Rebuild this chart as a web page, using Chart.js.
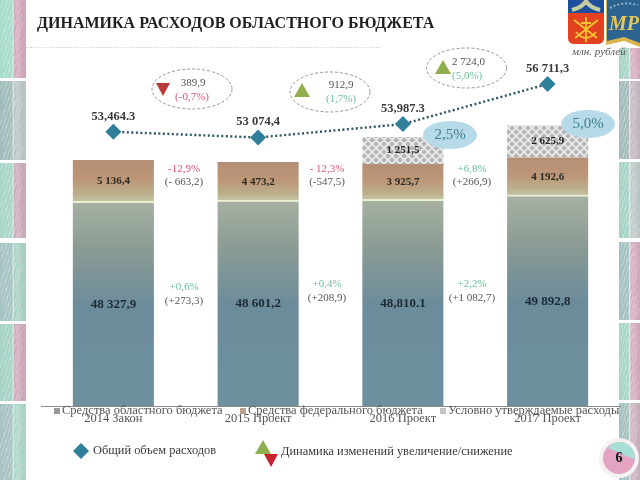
<!DOCTYPE html>
<html>
<head>
<meta charset="utf-8">
<title>Динамика расходов областного бюджета</title>
<script src="https://cdn.jsdelivr.net/npm/chart.js@4/dist/chart.umd.min.js"></script>
<style>
    html, body { margin: 0; padding: 0; background: #fff; }
    canvas { display: block; filter: blur(0.5px); }
</style>
</head>
<body>
<canvas id="budget-chart" width="640" height="480"></canvas>
<script>
const categories = ['2014 Закон', '2015 Проект', '2016 Проект', '2017 Проект'];
const seriesNames = ['Средства областного бюджета', 'Средства федерального бюджета', 'Условно утверждаемые расходы'];

// regional segments are in scale, the picture draws the two upper segments
// taller than their printed value, so their heights are read off the bars
const regionalValues = [48327.9, 48601.2, 48810.1, 49892.8];
const federalHeights = [10240, 9520, 8810, 9290];
const reservedHeights = [0, 0, 6430, 7620];
const totalValues = [53464.3, 53074.4, 53987.3, 56711.3];

const regionalLabels = ['48 327,9', '48 601,2', '48,810.1', '49 892,8'];
const federalLabels = ['5 136,4', '4 473,2', '3 925,7', '4 192,6'];
const reservedLabels = ['', '', '1 251,5', '2 625,9'];
const totalLabels = ['53,464.3', '53 074,4', '53,987.3', '56 711,3'];

const upperChangePercent = ['-12,9%', '- 12,3%', '+6,8%'];
const upperChangeAmount = ['(- 663,2)', '(-547,5)', '(+266,9)'];
const lowerChangePercent = ['+0,6%', '+0,4%', '+2,2%'];
const lowerChangeAmount = ['(+273,3)', '(+208,9)', '(+1 082,7)'];

const totalChangeAmount = ['389,9', '912,9', '2 724,0'];
const totalChangePercent = ['(-0,7%)', '(1,7%)', '(5,0%)'];

const RED = '#e0566f';
const GREEN = '#6fbf9a';
const GRAY_TEXT = '#555555';
const SERIF = '"Liberation Serif", serif';

function segmentGradient(context, fromValue, toValue, stops) {
    const chart = context.chart;
    if (!chart.chartArea) {
        return stops[0][1];
    }
    const yScale = chart.scales.y;
    const gradient = chart.ctx.createLinearGradient(
        0, yScale.getPixelForValue(toValue), 0, yScale.getPixelForValue(fromValue));
    stops.forEach(([offset, color]) => gradient.addColorStop(offset, color));
    return gradient;
}

function regionalFill(context) {
    const value = regionalValues[context.dataIndex];
    return segmentGradient(context, 0, value, [
        [0, '#a6b0a2'],
        [0.22, '#8b9c94'],
        [0.5, '#6d8c9b'],
        [1, '#6d909f'],
    ]);
}

function federalFill(context) {
    const base = regionalValues[context.dataIndex];
    return segmentGradient(context, base, base + federalHeights[context.dataIndex], [
        [0, '#b58f76'],
        [0.45, '#bd9677'],
        [0.8, '#bcaf8c'],
        [0.95, '#c3c3a4'],
        [0.96, '#eef0d2'],
        [1, '#eef0d2'],
    ]);
}

function hatchPattern() {
    const tile = document.createElement('canvas');
    tile.width = 8;
    tile.height = 8;
    const tileCtx = tile.getContext('2d');
    tileCtx.fillStyle = '#b4b4b4';
    tileCtx.fillRect(0, 0, 8, 8);
    tileCtx.strokeStyle = '#ededed';
    tileCtx.lineWidth = 1.6;
    tileCtx.beginPath();
    tileCtx.moveTo(-2, 6);
    tileCtx.lineTo(6, -2);
    tileCtx.moveTo(2, 10);
    tileCtx.lineTo(10, 2);
    tileCtx.moveTo(-2, 2);
    tileCtx.lineTo(6, 10);
    tileCtx.moveTo(2, -2);
    tileCtx.lineTo(10, 6);
    tileCtx.stroke();
    return tile;
}

const hatchTile = hatchPattern();

function drawText(ctx, text, x, y, font, color, align) {
    ctx.font = font;
    ctx.fillStyle = color;
    ctx.textAlign = align || 'center';
    ctx.textBaseline = 'middle';
    ctx.fillText(text, x, y);
}

function drawTriangle(ctx, x, y, up, color) {
    ctx.fillStyle = color;
    ctx.beginPath();
    if (up) {
        ctx.moveTo(x, y - 8);
        ctx.lineTo(x + 8, y + 6);
        ctx.lineTo(x - 8, y + 6);
    } else {
        ctx.moveTo(x - 7, y - 6);
        ctx.lineTo(x + 7, y - 6);
        ctx.lineTo(x, y + 7);
    }
    ctx.closePath();
    ctx.fill();
}

function drawDiamond(ctx, x, y, radius) {
    ctx.fillStyle = '#2f7f9b';
    ctx.beginPath();
    ctx.moveTo(x, y - radius);
    ctx.lineTo(x + radius, y);
    ctx.lineTo(x, y + radius);
    ctx.lineTo(x - radius, y);
    ctx.closePath();
    ctx.fill();
}

function drawStripTile(ctx, x, y, width, height, leftColor, rightColor) {
    const half = width / 2;
    ctx.save();
    ctx.beginPath();
    ctx.rect(x, y, width, height);
    ctx.clip();
    ctx.fillStyle = leftColor;
    ctx.fillRect(x, y, half, height);
    ctx.fillStyle = rightColor;
    ctx.fillRect(x + half, y, half, height);
    ctx.strokeStyle = 'rgba(255,255,255,0.28)';
    ctx.lineWidth = 1;
    for (let step = 0; step < height + 20; step += 4) {
        const shift = (step * 7) % 11;
        ctx.beginPath();
        ctx.moveTo(x + shift, y + step);
        ctx.lineTo(x + shift + 5, y + step - 16);
        ctx.moveTo(x + half + shift / 2, y + step + 2);
        ctx.lineTo(x + half + shift / 2 + 4, y + step - 14);
        ctx.stroke();
    }
    ctx.fillStyle = 'rgba(255,255,255,0.45)';
    ctx.fillRect(x + half - 0.5, y, 1.5, height);
    ctx.restore();
}

function drawSideStrips(ctx) {
    const leftTiles = [
        [0, 78, '#a8dccb', '#d2a6ba'],
        [81, 79, '#a3bdbd', '#b8c4c4'],
        [163, 75, '#a9d6c9', '#c9aab8'],
        [243, 78, '#a7c4c4', '#a9cfc4'],
        [324, 77, '#a6d3c6', '#cfa7ba'],
        [404, 76, '#a8c3c2', '#a9d4c6'],
    ];
    leftTiles.forEach(([y, h, left, right]) => drawStripTile(ctx, 0, y, 26, h, left, right));

    const rightTiles = [
        [48, 31, '#a9d6c8', '#d2a9bb'],
        [81, 78, '#a6bcbd', '#bfb3be'],
        [162, 76, '#a8d4c7', '#b9c4c4'],
        [242, 78, '#a4c3c3', '#cfa8ba'],
        [323, 77, '#a8d6c8', '#d0a7ba'],
        [403, 77, '#a6c3c2', '#c7adba'],
    ];
    rightTiles.forEach(([y, h, left, right]) => drawStripTile(ctx, 619, y, 21, h, left, right));
}

function drawCrest(ctx) {
    ctx.fillStyle = '#e2421f';
    ctx.beginPath();
    ctx.moveTo(568, 0);
    ctx.lineTo(604, 0);
    ctx.lineTo(604, 38);
    ctx.quadraticCurveTo(604, 44, 597, 44);
    ctx.lineTo(575, 44);
    ctx.quadraticCurveTo(568, 44, 568, 38);
    ctx.closePath();
    ctx.fill();
    ctx.fillStyle = '#1f4f9c';
    ctx.fillRect(568, 0, 36, 13);
    ctx.strokeStyle = '#c4cda0';
    ctx.lineWidth = 4;
    ctx.beginPath();
    ctx.moveTo(572, 10);
    ctx.quadraticCurveTo(583, 7, 586, 1);
    ctx.quadraticCurveTo(589, 7, 600, 10);
    ctx.stroke();

    ctx.strokeStyle = '#f3c634';
    ctx.lineWidth = 1.8;
    ctx.beginPath();
    ctx.moveTo(586, 17);
    ctx.lineTo(586, 42);
    ctx.moveTo(576, 32);
    ctx.quadraticCurveTo(586, 44, 596, 32);
    ctx.moveTo(574, 20);
    ctx.lineTo(597, 38);
    ctx.moveTo(598, 20);
    ctx.lineTo(575, 38);
    ctx.moveTo(581, 23);
    ctx.lineTo(591, 23);
    ctx.stroke();

    ctx.fillStyle = '#d9b54a';
    ctx.beginPath();
    ctx.moveTo(606, 0);
    ctx.lineTo(640, 0);
    ctx.lineTo(640, 47);
    ctx.lineTo(624, 41);
    ctx.lineTo(606, 45);
    ctx.closePath();
    ctx.fill();
    ctx.fillStyle = '#2d6390';
    ctx.beginPath();
    ctx.moveTo(607, 0);
    ctx.lineTo(640, 0);
    ctx.lineTo(640, 43);
    ctx.lineTo(624, 37);
    ctx.lineTo(607, 41);
    ctx.closePath();
    ctx.fill();
    ctx.strokeStyle = '#8fb0c8';
    ctx.lineWidth = 2;
    ctx.setLineDash([2, 2]);
    ctx.beginPath();
    ctx.moveTo(610, 8);
    ctx.quadraticCurveTo(622, 1, 638, 5);
    ctx.stroke();
    ctx.setLineDash([]);
    drawText(ctx, 'МР', 624, 25, 'italic bold 20px ' + SERIF, '#e6c75e');
}

function drawPageNumber(ctx) {
    ctx.fillStyle = '#f6f1f3';
    ctx.beginPath();
    ctx.arc(619, 458, 20, 0, Math.PI * 2);
    ctx.fill();
    ctx.fillStyle = '#e2a4c0';
    ctx.beginPath();
    ctx.arc(619, 458, 16, 0, Math.PI * 2);
    ctx.fill();
    ctx.fillStyle = '#a6e0d4';
    ctx.beginPath();
    ctx.moveTo(608, 448);
    ctx.arc(619, 458, 16, -2.0, 0.1);
    ctx.closePath();
    ctx.fill();
    drawText(ctx, '6', 619, 458, 'bold 14px ' + SERIF, '#111111');
}

function drawOval(ctx, x, y, rx, ry) {
    ctx.strokeStyle = '#8a8a80';
    ctx.lineWidth = 0.9;
    ctx.setLineDash([3, 2]);
    ctx.beginPath();
    ctx.ellipse(x, y, rx, ry, 0, 0, Math.PI * 2);
    ctx.stroke();
    ctx.setLineDash([]);
}

function drawBlueBadge(ctx, x, y, text) {
    ctx.fillStyle = '#b6dae7';
    ctx.beginPath();
    ctx.ellipse(x, y, 27, 14, 0, 0, Math.PI * 2);
    ctx.fill();
    drawText(ctx, text, x, y, '15px ' + SERIF, '#3f7f92');
}

const backgroundArt = {
    id: 'backgroundArt',
    beforeDraw(chart) {
        const ctx = chart.ctx;
        ctx.save();
        drawSideStrips(ctx);
        drawCrest(ctx);
        drawText(ctx, 'ДИНАМИКА РАСХОДОВ ОБЛАСТНОГО БЮДЖЕТА', 37, 24, 'bold 16px ' + SERIF, '#1f1f1f', 'left');
        drawText(ctx, 'млн. рублей', 572, 52, 'italic 11px ' + SERIF, '#555555', 'left');
        ctx.strokeStyle = '#c8c8c0';
        ctx.lineWidth = 1;
        ctx.setLineDash([1, 1.5]);
        ctx.beginPath();
        ctx.moveTo(26, 47.5);
        ctx.lineTo(380, 47.5);
        ctx.stroke();
        ctx.setLineDash([]);
        ctx.restore();
    },
};

const annotations = {
    id: 'annotations',
    afterDatasetsDraw(chart) {
        const ctx = chart.ctx;
        const x = chart.scales.x;
        const y = chart.scales.y;
        const y1 = chart.scales.y1;
        ctx.save();

        // values inside the bars
        categories.forEach((name, i) => {
            const center = x.getPixelForValue(i);
            const regionalTop = regionalValues[i];
            const federalTop = regionalTop + federalHeights[i];
            drawText(ctx, regionalLabels[i], center, y.getPixelForValue(regionalTop / 2),
                'bold 13px ' + SERIF, '#1b2a33');
            drawText(ctx, federalLabels[i], center, y.getPixelForValue((regionalTop + federalTop) / 2),
                'bold 11px ' + SERIF, '#2a2a22');
            if (reservedLabels[i]) {
                drawText(ctx, reservedLabels[i], center,
                    y.getPixelForValue(federalTop + reservedHeights[i] / 2),
                    'bold 11px ' + SERIF, '#222222');
            }
            drawText(ctx, totalLabels[i], center, y1.getPixelForValue(totalValues[i]) - 15.5,
                'bold 12.5px ' + SERIF, '#3a3a3a');
        });

        // changes between the bars
        const gapX = [184, 327, 472];
        const upperY = [169, 169, 169];
        const lowerY = [287, 284, 284];
        gapX.forEach((gx, i) => {
            const upColor = upperChangePercent[i].includes('+') ? GREEN : RED;
            drawText(ctx, upperChangePercent[i], gx, upperY[i], '11px ' + SERIF, upColor);
            drawText(ctx, upperChangeAmount[i], gx, upperY[i] + 13, '11px ' + SERIF, GRAY_TEXT);
            drawText(ctx, lowerChangePercent[i], gx, lowerY[i], '11px ' + SERIF, GREEN);
            drawText(ctx, lowerChangeAmount[i], gx, lowerY[i] + 14, '11px ' + SERIF, GRAY_TEXT);
        });

        // dashed ovals with the change of the total
        drawOval(ctx, 192, 89, 40, 20);
        drawTriangle(ctx, 163, 89, false, '#b83a3a');
        drawText(ctx, totalChangeAmount[0], 193, 83, '11px ' + SERIF, GRAY_TEXT);
        drawText(ctx, totalChangePercent[0], 192, 97, '11px ' + SERIF, RED);

        drawOval(ctx, 330, 92, 40, 20);
        drawTriangle(ctx, 302, 91, true, '#8fae4e');
        drawText(ctx, totalChangeAmount[1], 341, 85, '11px ' + SERIF, GRAY_TEXT);
        drawText(ctx, totalChangePercent[1], 341, 99, '11px ' + SERIF, GREEN);

        drawOval(ctx, 466.5, 68, 40, 20);
        drawTriangle(ctx, 443, 68, true, '#8fae4e');
        drawText(ctx, totalChangeAmount[2], 452, 62, '11px ' + SERIF, GRAY_TEXT, 'left');
        drawText(ctx, totalChangePercent[2], 452, 76, '11px ' + SERIF, GREEN, 'left');

        drawBlueBadge(ctx, 450, 135, '2,5%');
        drawBlueBadge(ctx, 588, 124, '5,0%');

        // legend sits over the axis labels like in the slide
        const legendX = [57, 243, 443];
        const legendColors = ['#9a9a9a', '#b9a48e', '#c4c4c4'];
        seriesNames.forEach((name, i) => {
            ctx.fillStyle = legendColors[i];
            ctx.fillRect(legendX[i] - 3, 408, 6, 6);
            drawText(ctx, name, legendX[i] + 5, 411, '12.5px ' + SERIF, GRAY_TEXT, 'left');
        });

        drawDiamond(ctx, 81, 451, 8);
        drawText(ctx, 'Общий объем расходов', 93, 451, '12.4px ' + SERIF, '#3a3a3a', 'left');
        drawTriangle(ctx, 263, 448, true, '#8fae4e');
        drawTriangle(ctx, 271, 460, false, '#c8202c');
        drawText(ctx, 'Динамика изменений увеличение/снижение', 281, 452, '12.4px ' + SERIF, '#3a3a3a', 'left');

        drawPageNumber(ctx);
        ctx.restore();
    },
};

const chartCtx = document.getElementById('budget-chart').getContext('2d');

new Chart(chartCtx, {
    data: {
        labels: categories,
        datasets: [
            {
                type: 'line',
                label: 'Общий объем расходов',
                data: totalValues,
                yAxisID: 'y1',
                order: 0,
                borderColor: '#2c5665',
                borderWidth: 2.4,
                borderDash: [2, 2.5],
                tension: 0,
                pointStyle: 'rectRot',
                pointRadius: 8,
                pointBackgroundColor: '#2f7f9b',
                pointBorderColor: '#2f7f9b',
                pointBorderWidth: 0,
            },
            {
                type: 'bar',
                label: seriesNames[0],
                data: regionalValues,
                yAxisID: 'y',
                order: 1,
                backgroundColor: regionalFill,
            },
            {
                type: 'bar',
                label: seriesNames[1],
                data: federalHeights,
                yAxisID: 'y',
                order: 1,
                backgroundColor: federalFill,
            },
            {
                type: 'bar',
                label: seriesNames[2],
                data: reservedHeights,
                yAxisID: 'y',
                order: 1,
                backgroundColor: (context) => context.chart.ctx.createPattern(hatchTile, 'repeat'),
            },
        ],
    },
    options: {
        responsive: false,
        animation: false,
        maintainAspectRatio: false,
        layout: {
            padding: { left: 41, right: 20, top: 60, bottom: 0 },
        },
        datasets: {
            bar: {
                categoryPercentage: 1,
                barPercentage: 0.56,
            },
        },
        plugins: {
            legend: { display: false },
            tooltip: { enabled: false },
        },
        scales: {
            x: {
                stacked: true,
                afterFit: (scale) => {
                    scale.height = 74;
                },
                grid: { display: false, drawTicks: false },
                border: { color: '#8c8c8c', width: 1 },
                ticks: {
                    padding: 5,
                    color: '#555555',
                    maxRotation: 0,
                    font: { family: 'Liberation Serif', size: 12.5 },
                },
            },
            y: {
                display: false,
                stacked: true,
                min: 0,
                max: 82380,
            },
            y1: {
                display: false,
                min: 34800,
                max: 58350,
            },
        },
    },
    plugins: [backgroundArt, annotations],
});
</script>
</body>
</html>
